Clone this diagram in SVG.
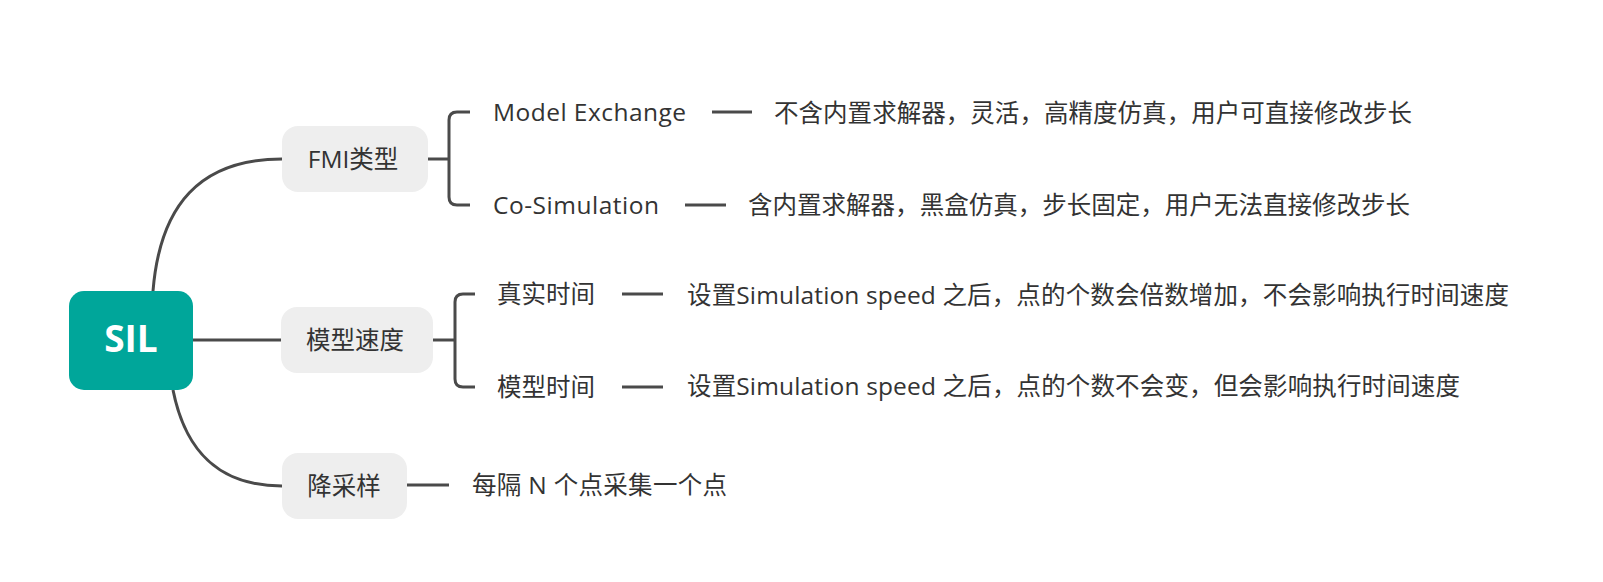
<svg xmlns="http://www.w3.org/2000/svg" width="1603" height="582" viewBox="0 0 1603 582">
<style>
.t{font-family:"Open Sans","Noto Sans CJK SC",sans-serif;font-size:24.5px;fill:#333333}
.c{text-anchor:middle}
.box{fill:#eeeeee}
.ln{fill:none;stroke:#4a4a4a;stroke-width:3;stroke-linecap:butt}
</style>
<rect width="1603" height="582" fill="#ffffff"/>
<g id="connectors">
<path class="ln" d="M153,291 C160,205 200,159 282,159"/>
<path class="ln" d="M193,340 L282,340"/>
<path class="ln" d="M173,390 C186,455 222,486 282,486"/>
<path class="ln" d="M428,159 L449,159"/>
<path class="ln" d="M470,112 L457,112 Q449,112 449,120 L449,197 Q449,205 457,205 L470,205"/>
<path class="ln" d="M433,340 L455,340"/>
<path class="ln" d="M475,294 L463,294 Q455,294 455,302 L455,379 Q455,387 463,387 L475,387"/>
<path class="ln" d="M712,112 L752,112"/>
<path class="ln" d="M685,205 L726,205"/>
<path class="ln" d="M622,294 L663,294"/>
<path class="ln" d="M622,387 L663,387"/>
<path class="ln" d="M407,485 L449,485"/>
</g>
<g id="root">
<rect x="69" y="291" width="124" height="99" rx="15" fill="#00a69a"/>
<text x="131" y="352" text-anchor="middle" style="font-family:'Open Sans','Noto Sans CJK SC',sans-serif;font-size:37px;font-weight:bold;fill:#ffffff">SIL</text>
</g>
<g id="fmi">
<rect class="box" x="282" y="126" width="146" height="66" rx="16"/>
<text class="t c" x="353" y="168">FMI类型</text>
</g>
<g id="speed">
<rect class="box" x="281" y="307" width="152" height="66" rx="16"/>
<text class="t c" x="355" y="349">模型速度</text>
</g>
<g id="downsample">
<rect class="box" x="282" y="453" width="125" height="66" rx="16"/>
<text class="t c" x="344" y="495">降采样</text>
</g>
<g id="me">
<text class="t" x="493" y="121" textLength="193" lengthAdjust="spacing">Model Exchange</text>
</g>
<g id="me-desc">
<text class="t" x="774" y="122" textLength="638" lengthAdjust="spacing">不含内置求解器，灵活，高精度仿真，用户可直接修改步长</text>
</g>
<g id="cs">
<text class="t" x="493" y="214" textLength="166" lengthAdjust="spacing">Co-Simulation</text>
</g>
<g id="cs-desc">
<text class="t" x="748" y="214" textLength="662" lengthAdjust="spacing">含内置求解器，黑盒仿真，步长固定，用户无法直接修改步长</text>
</g>
<g id="realtime">
<text class="t" x="497" y="303">真实时间</text>
</g>
<g id="realtime-desc">
<text class="t" x="687" y="304" textLength="822" lengthAdjust="spacing">设置Simulation speed 之后，点的个数会倍数增加，不会影响执行时间速度</text>
</g>
<g id="modeltime">
<text class="t" x="497" y="396">模型时间</text>
</g>
<g id="modeltime-desc">
<text class="t" x="687" y="395" textLength="773" lengthAdjust="spacing">设置Simulation speed 之后，点的个数不会变，但会影响执行时间速度</text>
</g>
<g id="downsample-desc">
<text class="t" x="472" y="494" textLength="255" lengthAdjust="spacing">每隔 N 个点采集一个点</text>
</g>
</svg>
